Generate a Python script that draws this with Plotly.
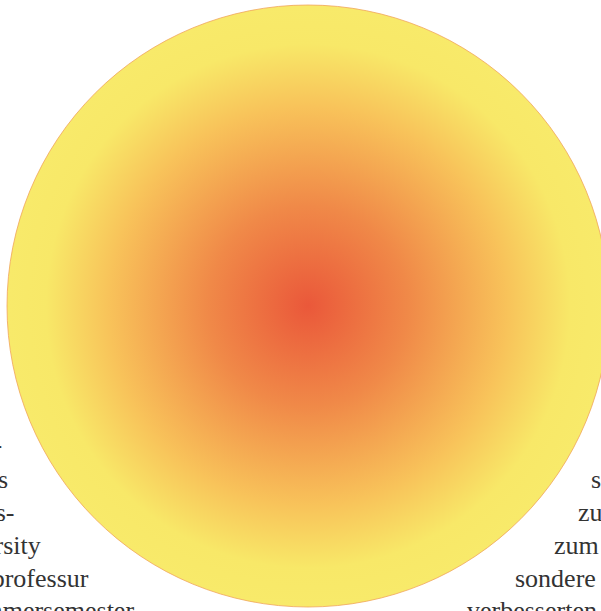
import plotly.graph_objects as go

# Kreis aus verschachtelten Scheiben: jede mit radialem Verlauf,
# zusammen ergibt sich Mitte rot -> Rand gelb (von aussen nach innen gezeichnet)
circle_x = [0, 0, 0, 0]
circle_y = [0, 0, 0, 0]
circle_size = [602, 524, 400, 200]
edge_color = ["#F8EA6A", "#F8E868", "#F8C35A", "#F08948"]
center_color = ["#F8DB5B", "#F84C2D", "#E84F36", "#EA583A"]

# Textfragmente links (rechtsbündig, vom Fensterrand abgeschnitten)
left_lines = ["Lehr-", "Fachbereichs", "Wirtschafts-", "University", "Gastprofessur", "Sommersemester"]
left_ends = [4, 10, 16, 43, 91, 136]
left_rows = [445, 479, 512, 545, 578, 610]

# Textfragmente rechts (linksbündig, vom Fensterrand abgeschnitten)
right_lines = ["sowie", "zudem", "zum Beispiel", "sondere Lehre", "verbesserten"]
right_starts = [589, 576, 552, 513, 465]
right_rows = [479, 512, 545, 578, 610]

W, H = 601, 611

fig = go.Figure()

fig.add_trace(go.Scatter(
    x=circle_x,
    y=circle_y,
    mode="markers",
    marker=dict(
        size=circle_size,
        opacity=1,
        color=edge_color,
        gradient=dict(type="radial", color=center_color),
        line=dict(color="#F0A45A", width=[0.8, 0, 0, 0]),
    ),
    cliponaxis=False,
    hoverinfo="skip",
    showlegend=False,
))

# Texte hinter dem Kreis
for txt, xe, yr in zip(left_lines, left_ends, left_rows):
    fig.add_annotation(
        text=txt, xref="paper", yref="paper",
        x=xe / W, y=1 - yr / H, xanchor="right", yanchor="middle",
        showarrow=False, font=dict(family="Liberation Serif", size=26, color="#333333"),
    )
for txt, xs, yr in zip(right_lines, right_starts, right_rows):
    fig.add_annotation(
        text=txt, xref="paper", yref="paper",
        x=xs / W, y=1 - yr / H, xanchor="left", yanchor="middle",
        showarrow=False, font=dict(family="Liberation Serif", size=26, color="#333333"),
    )

fig.update_xaxes(range=[-308, 293], visible=False)
fig.update_yaxes(range=[-305, 306], visible=False)

fig.update_layout(
    width=W,
    height=H,
    margin=dict(l=0, r=0, t=0, b=0),
    paper_bgcolor="white",
    plot_bgcolor="white",
)

# Seitenrand des body entfernen, damit die Figur bündig sitzt
fig.write_html(
    "out.html",
    config={"displayModeBar": False},
    post_script="document.body.style.margin='0';document.body.style.overflow='hidden';",
)
